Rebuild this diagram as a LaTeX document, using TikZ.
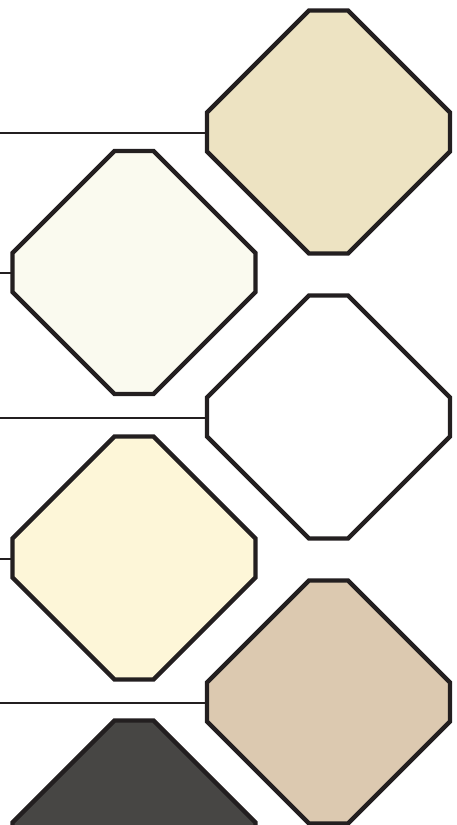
\documentclass[tikz,border=0pt]{standalone}
\definecolor{ink}{HTML}{231F20}
\definecolor{sand}{HTML}{EDE3C2}
\definecolor{ivory}{HTML}{FAFAEF}
\definecolor{cream}{HTML}{FDF6D8}
\definecolor{tan}{HTML}{DCC9B0}
\definecolor{slate}{HTML}{474644}
\tikzset{
  octline/.style={draw=ink, line width=4.4pt, line join=miter},
  octo/.pic={
    \path[octline, pic actions]
      (-121.5,-19.5) -- (-19.5,-121.5) -- (19.5,-121.5) -- (121.5,-19.5)
      -- (121.5,19.5) -- (19.5,121.5) -- (-19.5,121.5) -- (-121.5,19.5)
      -- cycle;
    \coordinate (-w) at (-123.5,0.8);
  },
  link/.style={draw=ink, line width=2pt}
}

\begin{document}
\begin{tikzpicture}[x=1pt,y=-1pt]
  \useasboundingbox (0,0) rectangle (457,825);
  \clip (0,0) rectangle (457,825);

  % right column
  \pic[fill=sand]  (rtop) at (328.5,132) {octo};
  \pic[fill=white] (rmid) at (328.5,417) {octo};
  \pic[fill=tan]   (rbot) at (328.5,702) {octo};

  % left column
  \pic[fill=ivory] (ltop) at (134,272.5) {octo};
  \pic[fill=cream] (lmid) at (134,558) {octo};
  \pic[fill=slate] (lbot) at (134,842) {octo};

  \coordinate (edge) at (0,0);

  \draw[link] (rtop-w) -- (rtop-w -| edge);
  \draw[link] (rmid-w) -- (rmid-w -| edge);
  \draw[link] (rbot-w) -- (rbot-w -| edge);
  \draw[link] (ltop-w) -- (ltop-w -| edge);
  \draw[link] (lmid-w) -- (lmid-w -| edge);
\end{tikzpicture}
\end{document}
